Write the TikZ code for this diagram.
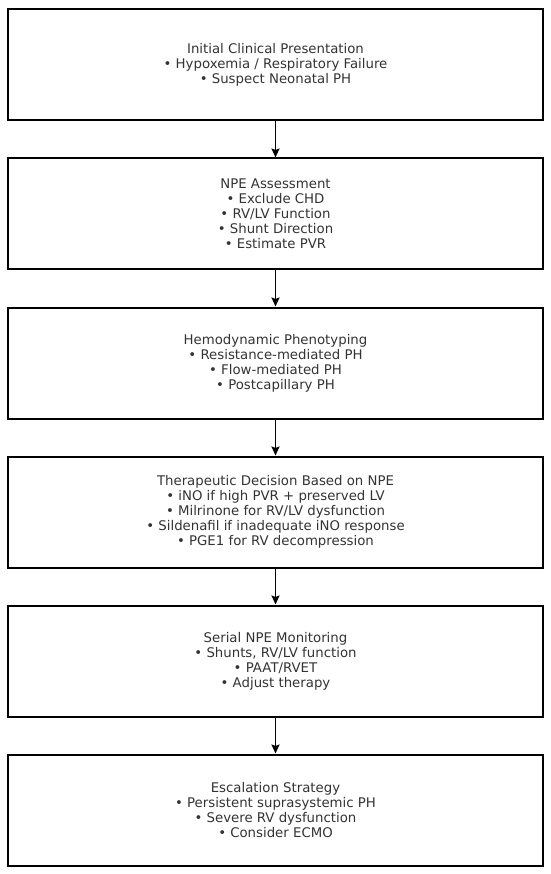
\documentclass[tikz,border=0pt]{standalone}
\usepackage{fontspec}
\setmainfont{DejaVu Sans}
\usetikzlibrary{arrows.meta}
\begin{document}
\begin{tikzpicture}[x=1pt,y=-1pt,
  stage/.style={draw=black, line width=2pt, minimum width=535pt, minimum height=111pt, align=center, font=\fontsize{13.3}{15}\selectfont, text=black!80, inner sep=0pt},
  link/.style={draw=black, line width=1.8pt, -{Stealth[length=9pt,width=8pt,inset=1.5pt]}}]
\useasboundingbox (0,0) rectangle (550,874);
\node[stage] (b1) at (275.5,65) {Initial Clinical Presentation\\• Hypoxemia / Respiratory Failure\\• Suspect Neonatal PH};
\node[stage] (b2) at (275.5,214) {NPE Assessment\\• Exclude CHD\\• RV/LV Function\\• Shunt Direction\\• Estimate PVR};
\node[stage] (b3) at (275.5,363) {Hemodynamic Phenotyping\\• Resistance-mediated PH\\• Flow-mediated PH\\• Postcapillary PH};
\node[stage] (b4) at (275.5,512) {Therapeutic Decision Based on NPE\\• iNO if high PVR + preserved LV\\• Milrinone for RV/LV dysfunction\\• Sildenafil if inadequate iNO response\\• PGE1 for RV decompression};
\node[stage] (b5) at (275.5,661) {Serial NPE Monitoring\\• Shunts, RV/LV function\\• PAAT/RVET\\• Adjust therapy};
\node[stage] (b6) at (275.5,810) {Escalation Strategy\\• Persistent suprasystemic PH\\• Severe RV dysfunction\\• Consider ECMO};
\draw[link] (b1) -- (b2);
\draw[link] (b2) -- (b3);
\draw[link] (b3) -- (b4);
\draw[link] (b4) -- (b5);
\draw[link] (b5) -- (b6);
\end{tikzpicture}
\end{document}
